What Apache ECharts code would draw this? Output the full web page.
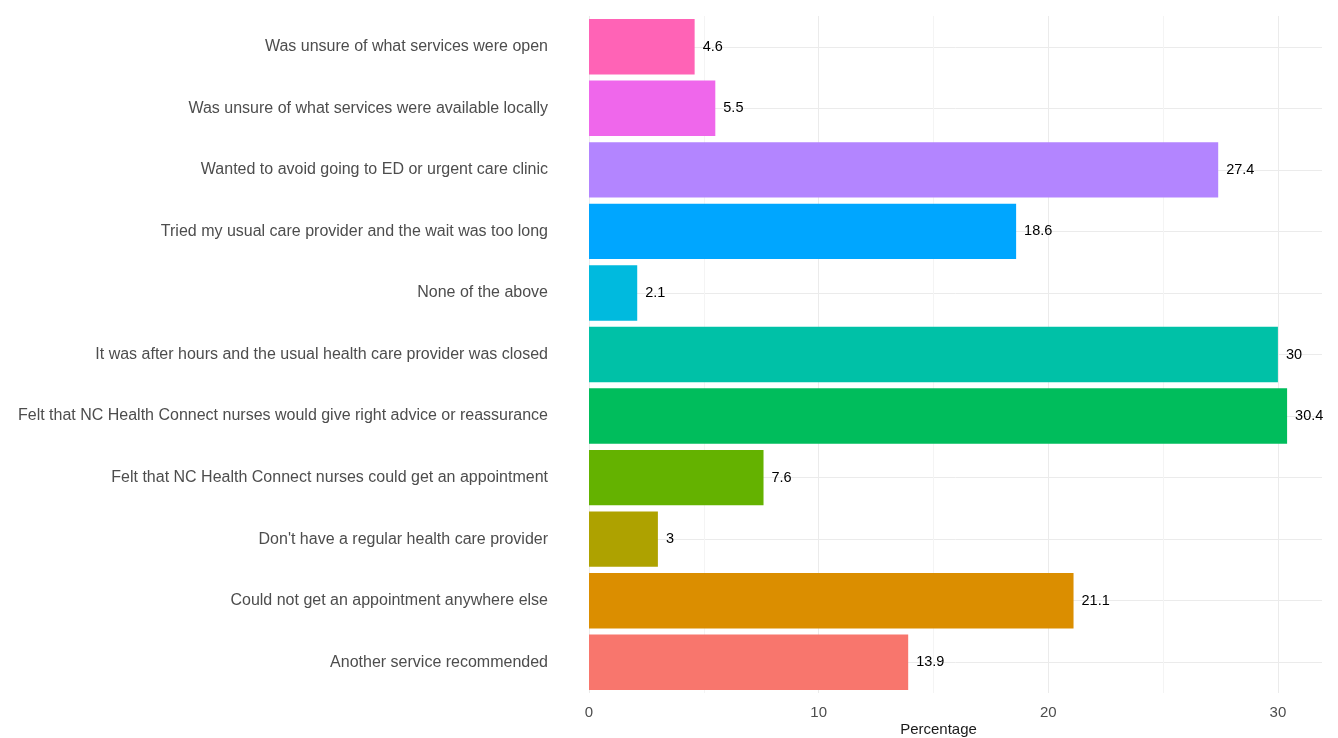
<!DOCTYPE html>
<html>
<head>
<meta charset="utf-8">
<script src="https://cdn.jsdelivr.net/npm/echarts@6/dist/echarts.min.js"></script>
<style>
  html, body { margin: 0; padding: 0; background: #fff; }
  #chart { width: 1338px; height: 738px; }
</style>
</head>
<body>
<div id="chart"></div>
<script>
// categories bottom to top (same order as the picture, read upward)
const categories = [
  "Another service recommended",
  "Could not get an appointment anywhere else",
  "Don't have a regular health care provider",
  "Felt that NC Health Connect nurses could get an appointment",
  "Felt that NC Health Connect nurses would give right advice or reassurance",
  "It was after hours and the usual health care provider was closed",
  "None of the above",
  "Tried my usual care provider and the wait was too long",
  "Wanted to avoid going to ED or urgent care clinic",
  "Was unsure of what services were available locally",
  "Was unsure of what services were open"
];
const percentages = [13.9, 21.1, 3, 7.6, 30.4, 30, 2.1, 18.6, 27.4, 5.5, 4.6];
const barColors = [
  "#F8766D", "#DB8E00", "#AEA200", "#64B200", "#00BD5C", "#00C1A7",
  "#00BADE", "#00A6FF", "#B385FF", "#EF67EB", "#FF63B6"
];
const xTicks = [0, 10, 20, 30];

const chart = echarts.init(document.getElementById("chart"));
const font = "'Liberation Sans', Arial, sans-serif";

chart.setOption({
  backgroundColor: "#ffffff",
  animation: false,
  textStyle: { fontFamily: font },
  grid: { left: 589, right: 16, top: 16, bottom: 45, outerBoundsMode: "none", containLabel: false },
  xAxis: {
    type: "value",
    min: 0,
    max: 31.92,
    interval: 10,
    name: "Percentage",
    nameLocation: "middle",
    nameGap: 29,
    nameMoveOverlap: false,
    nameTextStyle: { color: "#1a1a1a", fontSize: 15, fontFamily: font, padding: [0, 34, 0, 0] },
    axisLine: { show: false },
    axisTick: { show: false },
    axisLabel: {
      color: "#4D4D4D", fontSize: 15, margin: 12, fontFamily: font,
      showMaxLabel: false,
      formatter: v => (xTicks.includes(v) ? String(v) : "")
    },
    splitLine: { show: true, showMaxLine: false, lineStyle: { color: "#EBEBEB", width: 1 } },
    minorTick: { show: false, splitNumber: 2 },
    minorSplitLine: { show: true, lineStyle: { color: "#F4F4F4", width: 1 } }
  },
  yAxis: {
    type: "category",
    data: categories,
    axisLine: { show: false },
    axisTick: { show: false },
    axisLabel: { color: "#4D4D4D", fontSize: 16, margin: 41, fontFamily: font },
    splitLine: { show: true, alignWithLabel: true, lineStyle: { color: "#EBEBEB", width: 1 } }
  },
  series: [{
    type: "bar",
    barWidth: "90%",
    data: percentages.map((v, i) => ({ value: v, itemStyle: { color: barColors[i] } })),
    label: {
      show: true,
      position: "right",
      distance: 8,
      color: "#000000",
      fontSize: 14.5,
      fontFamily: font
    }
  }]
});
</script>
</body>
</html>
